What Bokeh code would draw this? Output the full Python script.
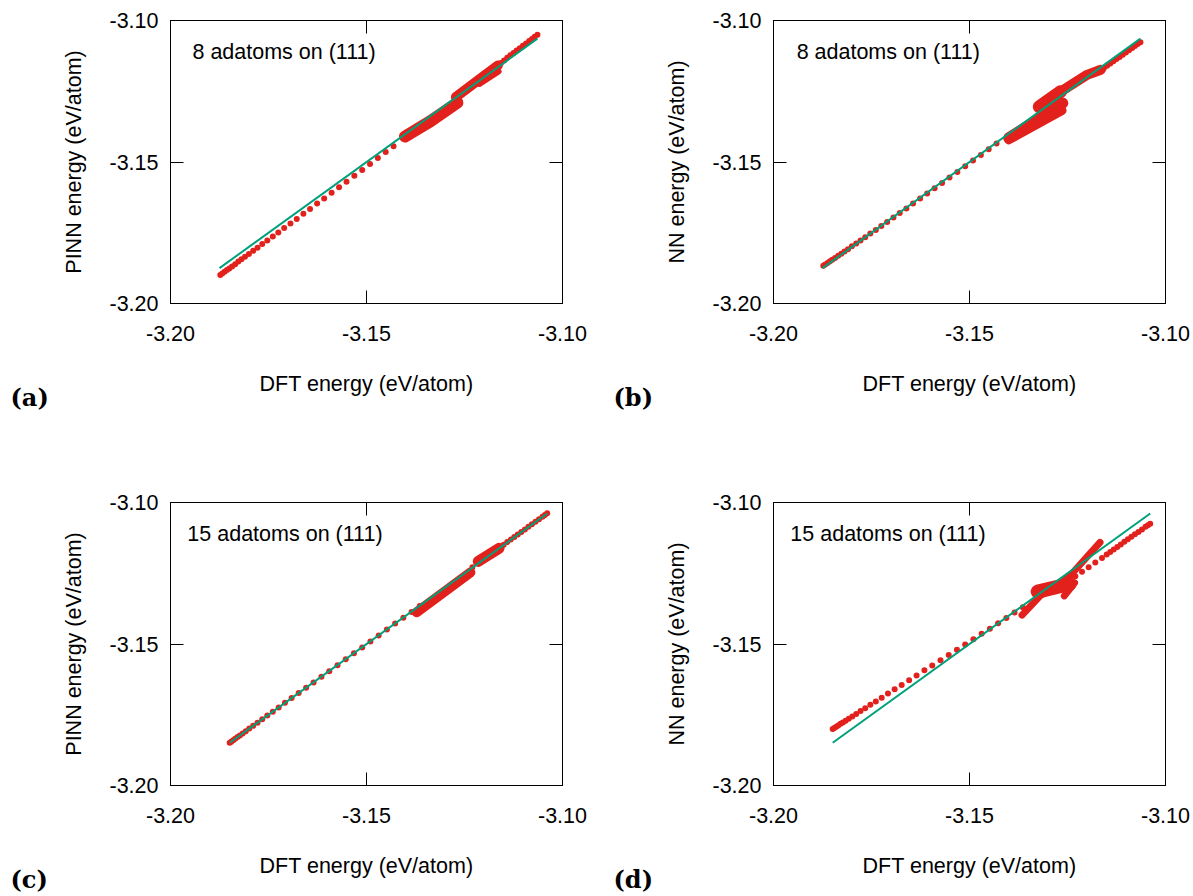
from bokeh.plotting import figure
from bokeh.models import Range1d, LinearAxis, FixedTicker, PrintfTickFormatter, Label, ColumnDataSource, Title
from bokeh.layouts import column, row
from bokeh.embed import file_html
from bokeh.resources import INLINE

# ---------------- data ----------------
tick_values = [-3.20, -3.15, -3.10]
tick_labels = ["-3.20", "-3.15", "-3.10"]

# 8 adatoms on (111): DFT energies (sparse part of trajectory)
dft_8 = [-3.1873, -3.1868, -3.1862, -3.1856, -3.1850, -3.1843, -3.1835, -3.1827, -3.1819, -3.1810,
         -3.1800, -3.1789, -3.1778, -3.1766, -3.1753, -3.1739, -3.1725, -3.1710, -3.1694, -3.1678,
         -3.1661, -3.1644, -3.1626, -3.1608, -3.1589, -3.1570, -3.1551, -3.1531, -3.1511, -3.1491,
         -3.1471, -3.1451, -3.1431]
pinn_8 = [-3.1899, -3.1894, -3.1888, -3.1882, -3.1876, -3.1869, -3.1861, -3.1852, -3.1844, -3.1835,
          -3.1825, -3.1814, -3.1803, -3.1790, -3.1777, -3.1763, -3.1749, -3.1733, -3.1717, -3.1701,
          -3.1683, -3.1666, -3.1647, -3.1629, -3.1609, -3.1589, -3.1570, -3.1549, -3.1528, -3.1507,
          -3.1486, -3.1465, -3.1444]
nn_8 = [-3.1867, -3.1862, -3.1857, -3.1851, -3.1845, -3.1839, -3.1831, -3.1824, -3.1816, -3.1808,
        -3.1798, -3.1788, -3.1777, -3.1766, -3.1753, -3.1740, -3.1726, -3.1712, -3.1696, -3.1680,
        -3.1664, -3.1647, -3.1629, -3.1611, -3.1593, -3.1574, -3.1555, -3.1535, -3.1515, -3.1495,
        -3.1475, -3.1455, -3.1435]
# high-energy end of the 8-adatom trajectory
dft_8_hi = [-3.1165, -3.1157, -3.1149, -3.1141, -3.1133, -3.1125, -3.1117, -3.1109, -3.1101, -3.1093,
            -3.1085, -3.1078, -3.1071, -3.1064]
pinn_8_hi = [-3.1159, -3.1150, -3.1141, -3.1132, -3.1123, -3.1115, -3.1106, -3.1098, -3.1089, -3.1081,
             -3.1072, -3.1065, -3.1057, -3.1050]
nn_8_hi = [-3.1176, -3.1168, -3.1160, -3.1152, -3.1144, -3.1136, -3.1129, -3.1121, -3.1113, -3.1105,
           -3.1097, -3.1090, -3.1083, -3.1077]
# dense clusters of the 8-adatom trajectory (DFT, model) traced as paths
pinn_8_dense_dft = [[-3.1402, -3.1337, -3.1268], [-3.1272, -3.1200, -3.1165], [-3.1212, -3.1163]]
pinn_8_dense_e = [[-3.1410, -3.1356, -3.1290], [-3.1270, -3.1195, -3.1159], [-3.1224, -3.1180]]
nn_8_dense_dft = [[-3.1400, -3.1262], [-3.1400, -3.1264], [-3.1322, -3.1268], [-3.1268, -3.1200, -3.1165]]
nn_8_dense_e = [[-3.1415, -3.1292], [-3.1422, -3.1318], [-3.1305, -3.1252], [-3.1252, -3.1192, -3.1174]]

# 15 adatoms on (111)
dft_15 = [-3.1849, -3.1845, -3.1840, -3.1835, -3.1829, -3.1823, -3.1816, -3.1808, -3.1799, -3.1789,
          -3.1778, -3.1766, -3.1753, -3.1739, -3.1724, -3.1708, -3.1691, -3.1673, -3.1654, -3.1635,
          -3.1615, -3.1595, -3.1574, -3.1553, -3.1532, -3.1511, -3.1490, -3.1469, -3.1448, -3.1427,
          -3.1406, -3.1385, -3.1364]
pinn_15 = [-3.1849, -3.1845, -3.1840, -3.1835, -3.1829, -3.1823, -3.1816, -3.1808, -3.1799, -3.1789,
           -3.1778, -3.1766, -3.1753, -3.1739, -3.1724, -3.1708, -3.1691, -3.1673, -3.1655, -3.1636,
           -3.1616, -3.1596, -3.1575, -3.1554, -3.1533, -3.1512, -3.1491, -3.1470, -3.1449, -3.1428,
           -3.1407, -3.1387, -3.1366]
nn_15 = [-3.1800, -3.1797, -3.1792, -3.1788, -3.1782, -3.1777, -3.1771, -3.1764, -3.1756, -3.1747,
         -3.1737, -3.1727, -3.1715, -3.1703, -3.1690, -3.1675, -3.1660, -3.1645, -3.1628, -3.1611,
         -3.1593, -3.1576, -3.1557, -3.1539, -3.1520, -3.1502, -3.1483, -3.1464, -3.1446, -3.1427,
         -3.1408, -3.1389, -3.1370]
dft_15_hi = [-3.1230, -3.1213, -3.1196, -3.1179, -3.1162, -3.1150, -3.1141, -3.1132, -3.1123, -3.1114,
             -3.1105, -3.1096, -3.1087, -3.1078, -3.1069, -3.1060, -3.1051, -3.1045, -3.1039]
pinn_15_hi = [-3.1229, -3.1212, -3.1195, -3.1178, -3.1161, -3.1149, -3.1140, -3.1131, -3.1122, -3.1113,
              -3.1104, -3.1095, -3.1086, -3.1077, -3.1068, -3.1059, -3.1050, -3.1044, -3.1038]
nn_15_hi = [-3.1261, -3.1245, -3.1229, -3.1212, -3.1196, -3.1184, -3.1175, -3.1166, -3.1157, -3.1148,
            -3.1139, -3.1130, -3.1121, -3.1112, -3.1104, -3.1095, -3.1086, -3.1080, -3.1075]
pinn_15_dense_dft = [[-3.1372, -3.1235], [-3.1215, -3.1162]]
pinn_15_dense_e = [[-3.1388, -3.1247], [-3.1208, -3.1162]]
nn_15_dense_dft = [[-3.1366, -3.1320, -3.1243, -3.1167], [-3.1326, -3.1245], [-3.1258, -3.1232]]
nn_15_dense_e = [[-3.1398, -3.1330, -3.1258, -3.1141], [-3.1315, -3.1288], [-3.1330, -3.1284]]

# y = x reference lines
ref_8 = [-3.1875, -3.1064]
ref_15 = [-3.1849, -3.1039]

# ---------------- style ----------------
FONT = "Liberation Sans"
FS = "21.5px"
RED = "#e3211c"
GREEN = "#00a07a"
DOT = 6


def style_axis(ax, labels=True):
    ax.ticker = FixedTicker(ticks=tick_values)
    ax.formatter = PrintfTickFormatter(format="%.2f")
    ax.major_label_overrides = {v: s for v, s in zip(tick_values, tick_labels)}
    ax.major_tick_in = 13
    ax.major_tick_out = 0
    ax.minor_tick_line_color = None
    ax.axis_line_color = "black"
    ax.major_tick_line_color = "black"
    ax.major_label_text_font = FONT
    ax.axis_label_text_font = FONT
    ax.axis_label_text_font_size = FS
    ax.axis_label_text_font_style = "normal"
    ax.axis_label_text_color = "black"
    if labels:
        ax.major_label_text_font_size = FS
        ax.major_label_text_color = "black"
    else:
        ax.major_label_text_font_size = "1px"
        ax.major_label_text_color = None
        ax.major_label_standoff = 0


def panel(w, h, bl, br, bt, bb, ylabel, sx, sy, hx, hy, dx, dy, widths, ref, note, note_x, tag):
    p = figure(width=w, height=h, x_range=Range1d(-3.20, -3.10), y_range=Range1d(-3.20, -3.10),
               output_backend="svg", toolbar_location=None,
               min_border_left=bl, min_border_right=br, min_border_top=bt, min_border_bottom=bb)
    p.grid.visible = False
    p.outline_line_color = "black"
    p.outline_line_width = 1
    p.background_fill_color = "white"
    p.border_fill_color = "white"

    style_axis(p.xaxis[0])
    style_axis(p.yaxis[0])
    p.xaxis[0].axis_label = "DFT energy (eV/atom)"
    p.yaxis[0].axis_label = ylabel
    p.xaxis[0].major_label_standoff = 22
    p.xaxis[0].axis_label_standoff = 28
    p.yaxis[0].major_label_standoff = 12
    p.yaxis[0].axis_label_standoff = 20

    top = LinearAxis()
    style_axis(top, labels=False)
    p.add_layout(top, "above")
    right = LinearAxis()
    style_axis(right, labels=False)
    p.add_layout(right, "right")

    src = ColumnDataSource(dict(xs=dx, ys=dy, w=widths))
    p.multi_line(xs="xs", ys="ys", line_width="w", line_color=RED, line_cap="round",
                 line_join="round", source=src)
    p.scatter(sx, sy, size=DOT, color=RED, line_color=None)
    p.scatter(hx, hy, size=DOT, color=RED, line_color=None)
    p.line(ref, ref, line_color=GREEN, line_width=2)

    p.add_layout(Label(x=note_x, y=-3.1113, text=note, text_font=FONT, text_font_size=FS,
                       text_color="black", text_baseline="alphabetic", text_align="left"))
    p.add_layout(Title(text=tag, align="left", offset=-160, standoff=-31, vertical_align="top",
                       text_font="DejaVu Serif", text_font_size="24px", text_font_style="bold",
                       text_color="black"), "below")
    return p


pa = panel(596, 448, 170, 34, 20, 145, "PINN energy (eV/atom)", dft_8, pinn_8, dft_8_hi, pinn_8_hi,
           pinn_8_dense_dft, pinn_8_dense_e, [12, 10, 6], ref_8, "8 adatoms on (111)", -3.1944, "(a)")
pb = panel(597, 448, 177, 28, 20, 145, "NN energy (eV/atom)", dft_8, nn_8, dft_8_hi, nn_8_hi,
           nn_8_dense_dft, nn_8_dense_e, [11, 9, 13, 10], ref_8, "8 adatoms on (111)", -3.1941, "(b)")
pc = panel(596, 448, 170, 34, 54, 111, "PINN energy (eV/atom)", dft_15, pinn_15, dft_15_hi, pinn_15_hi,
           pinn_15_dense_dft, pinn_15_dense_e, [10, 11], ref_15, "15 adatoms on (111)", -3.1957, "(c)")
pd = panel(597, 448, 177, 28, 54, 111, "NN energy (eV/atom)", dft_15, nn_15, dft_15_hi, nn_15_hi,
           nn_15_dense_dft, nn_15_dense_e, [7, 14, 7], ref_15, "15 adatoms on (111)", -3.1957, "(d)")

layout = column(row(pa, pb), row(pc, pd))
open("out.html", "w").write(file_html(layout, INLINE))
